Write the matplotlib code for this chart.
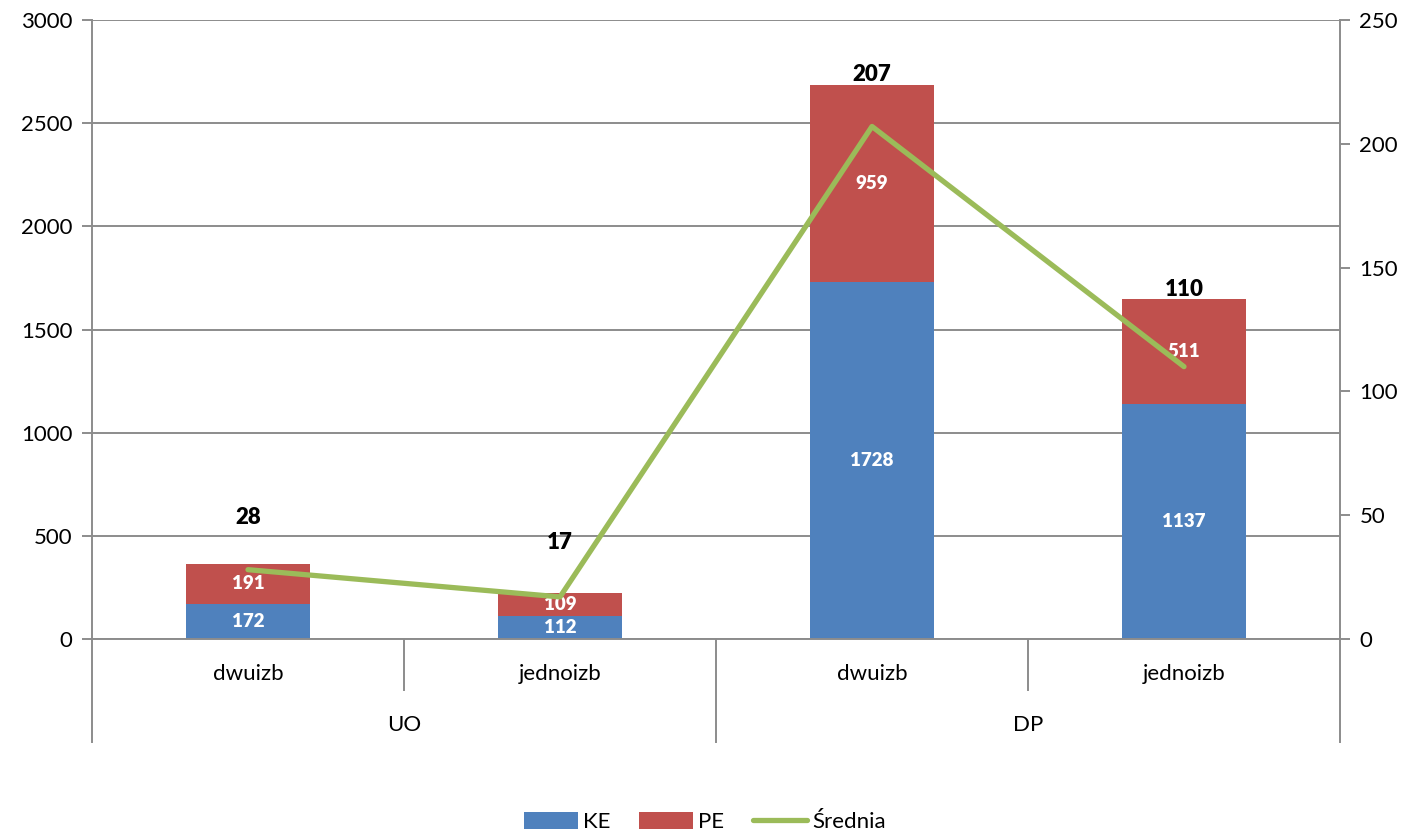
import matplotlib; matplotlib.use("Agg")
import matplotlib.pyplot as plt
import numpy as np

plt.rcParams["font.family"] = ["Lato", "DejaVu Sans"]

categories = ["dwuizb", "jednoizb", "dwuizb", "jednoizb"]
groups = ["UO", "DP"]
ke = [172, 112, 1728, 1137]
pe = [191, 109, 959, 511]
srednia = [28, 17, 207, 110]
# label offsets (pixels) for the average labels, as placed in the original
avg_label_dy = [52, 54, 52, 77]

BLUE = "#4F81BD"; RED = "#C0504D"; GREEN = "#9BBB59"; GRID = "#8C8C8C"
FS = 16

fig = plt.figure(figsize=(14.1, 8.36), dpi=100)
ax = fig.add_axes([92/1410, 1-639/836, 1248/1410, 619/836])
x = np.arange(len(categories))

b1 = ax.bar(x, ke, width=0.4, color=BLUE, label="KE", zorder=2)
b2 = ax.bar(x, pe, width=0.4, bottom=ke, color=RED, label="PE", zorder=2)
for rects, vals, bots in ((b1, ke, [0]*4), (b2, pe, ke)):
    for r, v, b in zip(rects, vals, bots):
        ax.text(r.get_x()+r.get_width()/2, b+v/2, str(v), ha="center", va="center",
                color="white", fontsize=13.5, fontweight="heavy", zorder=5)

ax.set_xlim(-0.5, 3.5)
ax.set_ylim(0, 3000)
ax.set_yticks(range(0, 3001, 500))
ax.yaxis.grid(True, color=GRID, lw=1.4)
ax.set_axisbelow(True)
ax.tick_params(axis="y", length=7, width=1.4, color=GRID, labelsize=FS, pad=7)
ax.set_xticks([])
for s in ("top", "right"):
    ax.spines[s].set_visible(False)
for s in ("left", "bottom"):
    ax.spines[s].set_color(GRID); ax.spines[s].set_linewidth(1.4)

ax2 = ax.twinx()
ax2.set_ylim(0, 250)
ax2.set_yticks(range(0, 251, 50))
ax2.plot(x, srednia, color=GREEN, lw=3.8, label="Średnia", zorder=4, solid_capstyle="round")
ax2.tick_params(axis="y", length=7, width=1.4, color=GRID, labelsize=FS, pad=7)
for s in ("top", "left", "bottom"):
    ax2.spines[s].set_visible(False)
ax2.spines["right"].set_color(GRID); ax2.spines["right"].set_linewidth(1.4)
for xi, v, dy in zip(x, srednia, avg_label_dy):
    ax2.annotate(str(v), (xi, v), xytext=(0, dy*0.72), textcoords="offset points",
                 ha="center", va="center", fontsize=FS, fontweight="heavy", color="black")

# multi-level category axis
tr = ax.get_xaxis_transform()
h_in = 51/619; h_out = 103/619
for xb in (-0.5, 1.5, 3.5):
    ax.plot([xb, xb], [0, -h_out], color=GRID, lw=1.4, transform=tr, clip_on=False)
for xb in (0.5, 2.5):
    ax.plot([xb, xb], [0, -h_in], color=GRID, lw=1.4, transform=tr, clip_on=False)
for xi, c in zip(x, categories):
    ax.text(xi, -35/619, c, transform=tr, ha="center", va="center", fontsize=FS)
for gi, g in enumerate(groups):
    ax.text(gi*2+0.5, -86/619, g, transform=tr, ha="center", va="center", fontsize=FS)

h1, l1 = ax.get_legend_handles_labels()
h2, l2 = ax2.get_legend_handles_labels()
fig.legend(h1+h2, l1+l2, loc="center", bbox_to_anchor=(0.5, 1-822/836), ncol=3,
           frameon=False, fontsize=FS, handlelength=2.4, handleheight=0.85,
           columnspacing=1.3, handletextpad=0.25)

fig.savefig("out.png", dpi=100)
